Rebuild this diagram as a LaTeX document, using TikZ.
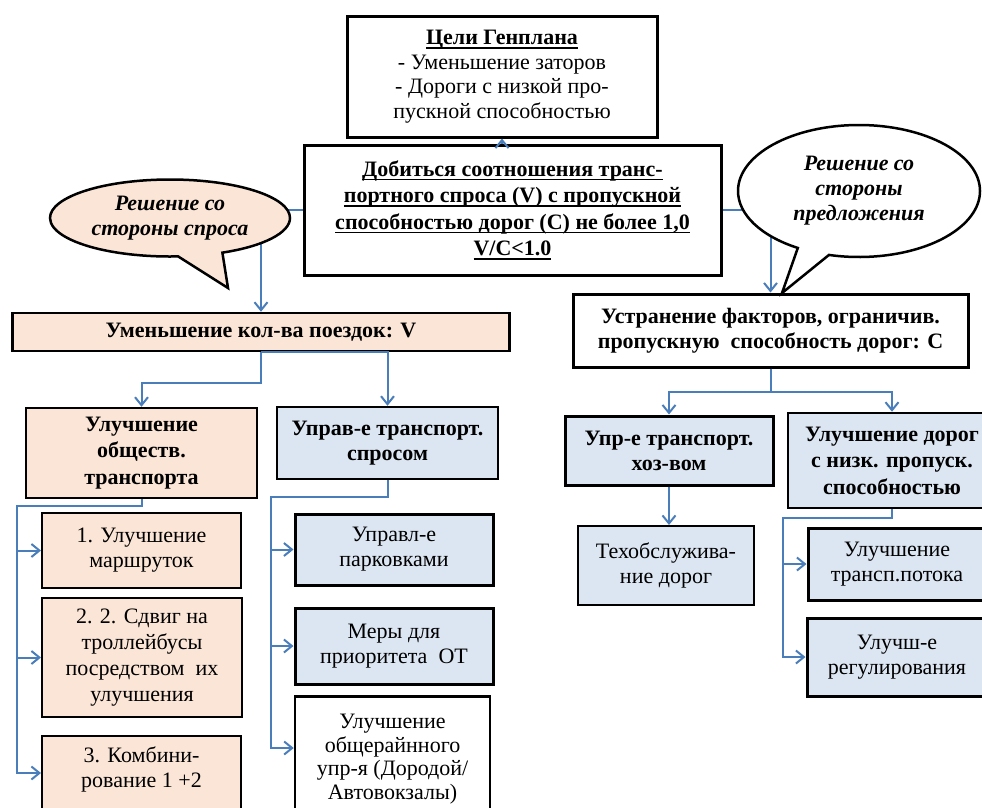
\documentclass[tikz,border=0pt]{standalone}
\usepackage{fontspec}
\setmainfont{Liberation Serif}
\newcommand{\myul}[1]{\begingroup\setbox0\hbox{#1}\rlap{\rule[-4pt]{\wd0}{1.4pt}}\box0\endgroup}
\usetikzlibrary{arrows.meta,shapes.callouts,calc}
\definecolor{peach}{HTML}{FBE5D6}
\definecolor{lblue}{HTML}{DCE6F2}
\definecolor{cblue}{HTML}{4A7EBB}
\begin{document}
\begin{tikzpicture}[x=1pt,y=-1pt,
  font=\fontsize{22}{25}\selectfont,
  box/.style={draw=black,line width=2.5pt,rectangle,align=center,inner sep=0pt},
  thick box/.style={box,line width=3pt},
  pbox/.style={box,fill=peach},
  bbox/.style={box,fill=lblue},
  bold/.style={font=\bfseries\fontsize{22}{25}\selectfont},
  conn/.style={draw=cblue,line width=2pt},
  arr/.style={conn,-{Straight Barb[length=8pt,width=13pt]}},
  bubble/.style={ellipse callout,draw=black,line width=2.5pt,inner sep=0pt,align=center,
    font=\bfseries\itshape\fontsize{22}{25}\selectfont}
]
\useasboundingbox (0,0) rectangle (982,807);
\clip (0,0) rectangle (982,807);
\fill[white] (0,0) rectangle (982,807);

% top boxes
\node[thick box,minimum width=310pt,minimum height=121pt,font=\fontsize{22}{24.5}\selectfont] (b1) at (502,76.5)
  {\textbf{\myul{Цели Генплана}}\\- Уменьшение заторов\\- Дороги с низкой про-\\пускной способностью};
\node[thick box,minimum width=417pt,minimum height=130pt,font=\bfseries\fontsize{22}{26.5}\selectfont] (b2) at (512.5,210)
  {\myul{Добиться соотношения транс-}\\\myul{портного спроса (V) с пропускной}\\\myul{способностью дорог (С) не более 1,0}\\\myul{V/C<1.0}};

% demand side
\node[pbox,bold,minimum width=497pt,minimum height=38pt] (b3) at (261,332) {Уменьшение кол-ва поездок: V};
\node[pbox,bold,minimum width=231pt,minimum height=90pt,font=\bfseries\fontsize{22}{26.5}\selectfont] (b4) at (141.5,453) {Улучшение\\обществ.\\транспорта};
\node[pbox,line width=2pt,minimum width=199pt,minimum height=75pt] (s4a) at (141.5,550.5) {1. Улучшение\\маршруток};
\node[pbox,line width=2pt,minimum width=200pt,minimum height=119pt,font=\fontsize{22}{26}\selectfont] (s4b) at (142,657.5) {2. 2. Сдвиг на\\троллейбусы\\посредством\ \ их\\улучшения};
\node[pbox,line width=2pt,minimum width=199pt,anchor=north,inner ysep=11pt] (s4c) at (141.5,735) {3. Комбини-\\рование 1 +2\rule[-60pt]{0pt}{0pt}};

\node[bbox,bold,minimum width=221pt,minimum height=72pt] (b5) at (387.5,443) {Управ-е транспорт.\\спросом};
\node[bbox,thick box,fill=lblue,minimum width=198pt,minimum height=71pt] (s5a) at (394,549.5) {Управл-е\\парковками};
\node[bbox,thick box,fill=lblue,minimum width=198pt,minimum height=76pt] (s5b) at (394,646) {Меры для\\приоритета\ \ ОТ};
\node[box,minimum width=195pt,anchor=north,inner ysep=18pt,font=\fontsize{22}{23.5}\selectfont] (s5c) at (392.5,695) {Улучшение\\общерайнного\\упр-я (Дородой/\\Автовокзалы)\rule[-40pt]{0pt}{0pt}};

% supply side
\node[thick box,bold,minimum width=395pt,minimum height=73pt] (b6) at (770.5,330.5) {Устранение факторов, ограничив.\\пропускную\ \ способность дорог: С};
\node[bbox,bold,line width=3pt,minimum width=208pt,minimum height=69pt] (b7) at (669,450.5) {Упр-е транспорт.\\хоз-вом};
\node[bbox,line width=2pt,minimum width=176pt,minimum height=79pt] (s7a) at (666,565.5) {Техобслужива-\\ние дорог};
\node[bbox,bold,minimum width=208pt,minimum height=95pt,font=\bfseries\fontsize{22}{26.5}\selectfont] (b8) at (892,460.5) {Улучшение дорог\\с низк. пропуск.\\способностью};
\node[bbox,thick box,fill=lblue,minimum width=178pt,minimum height=72pt] (s8a) at (897,564) {Улучшение\\трансп.потока};
\node[bbox,thick box,fill=lblue,minimum width=180pt,minimum height=78pt] (s8b) at (897,657) {Улучш-е\\регулирования};

% connectors
\coordinate (t4) at (17,506);
\coordinate (a4c) at ($(s4c.north west)+(0,38)$);
\coordinate (t5) at (271,497);
\coordinate (a5c) at ($(s5c.north west)+(0,53)$);
\coordinate (t8) at (783,518);

\draw[arr] (b2.north -| b1.south) -- (b1.south);
\draw[arr] (b2.west) -| (b3.north);
\draw[arr] (b2.east) -| (b6.north);
\draw[arr] (b3.south) -- ++(0,31) -| (b4.north);
\draw[arr] (b3.south) -| (b5.north);

\draw[arr] (b4.south) |- (t4) |- (a4c);
\draw[arr] (t4 |- s4a.west) -- (s4a.west);
\draw[arr] (t4 |- s4b.west) -- (s4b.west);

\draw[arr] (b5.south) |- (t5) |- (a5c);
\draw[arr] (t5 |- s5a.west) -- (s5a.west);
\draw[arr] (t5 |- s5b.west) -- (s5b.west);

\draw[arr] (b6.south) -- ++(0,23) -| (b7.north);
\draw[arr] (b6.south) -- ++(0,23) -| (b8.north);
\draw[arr] (b7.south) -- (b7.south |- s7a.north);
\draw[arr] (b8.south) |- (t8) |- (s8b.west);
\draw[arr] (t8 |- s8a.west) -- (s8a.west);

% callouts
\node[bubble,fill=peach,minimum width=240pt,minimum height=77pt,
  callout absolute pointer={(228,288)},callout pointer arc=22] (c1) at (170,218) {Решение со\\стороны спроса};
\node[bubble,fill=white,minimum width=242pt,minimum height=132pt,
  callout absolute pointer={(782,293)},callout pointer arc=16] (c2) at (859,191) {Решение со\\стороны\\предложения};
\end{tikzpicture}
\end{document}
